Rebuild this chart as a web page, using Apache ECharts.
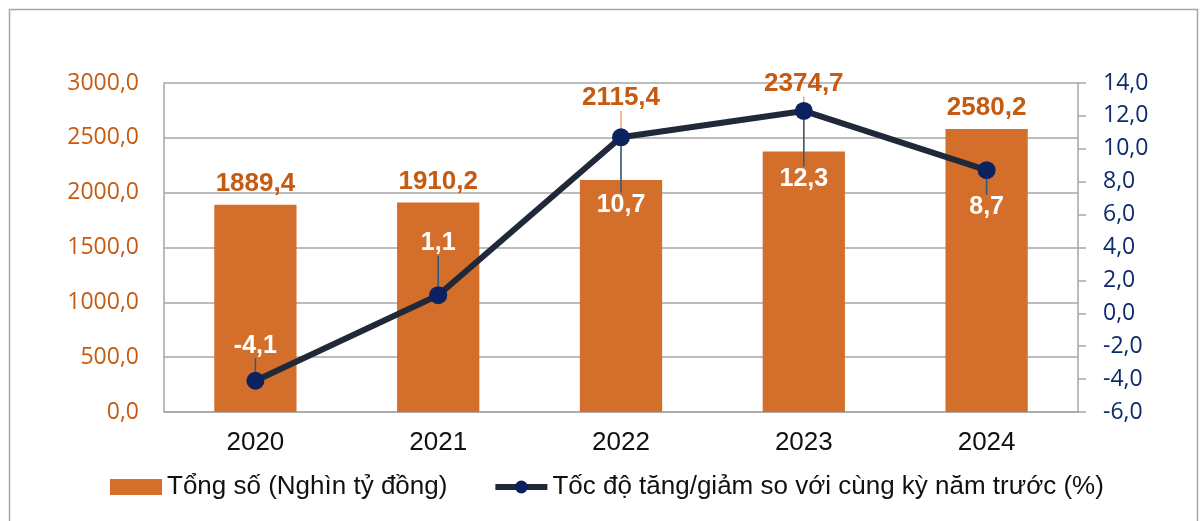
<!DOCTYPE html>
<html>
<head>
<meta charset="utf-8">
<script src="https://cdn.jsdelivr.net/npm/echarts@6/dist/echarts.min.js"></script>
<style>
  html, body { margin: 0; padding: 0; background: #fff; }
  #chart { width: 1203px; height: 521px; }
</style>
</head>
<body>
<div id="chart"></div>
<script>
var years = ["2020", "2021", "2022", "2023", "2024"];
var tongSo = [1889.4, 1910.2, 2115.4, 2374.7, 2580.2];      // Nghìn tỷ đồng
var tocDo = [-4.1, 1.1, 10.7, 12.3, 8.7];                    // %
// label shifts (px) so labels sit like the original
var barLabelDy = [0, 0, -61, -47, 0];
var lineLabelDy = [-35, -52, 68, 68, 37];

function fmt(v) { return v.toFixed(1).replace(".", ","); }

var barData = tongSo.map(function (v, i) {
  return { value: v, labelLine: { show: barLabelDy[i] !== 0 } };
});

var chart = echarts.init(document.getElementById("chart"));
chart.setOption({
  animation: false,
  graphic: [{
    type: "rect", left: 7, top: 7,
    shape: { width: 1188, height: 520 },
    style: { fill: "none", stroke: "#a6a6a6", lineWidth: 1.5 }
  }],
  grid: { left: 164, right: 125, top: 83, bottom: 109 },
  legend: {
    bottom: 16, left: 105, itemGap: 45, itemWidth: 52, itemHeight: 16,
    textStyle: { fontFamily: "Liberation Sans", fontSize: 26, color: "#111" },
    data: [
      { name: "Tổng số (Nghìn tỷ đồng)", icon: "rect", itemStyle: { color: "#d46e2b" } },
      { name: "Tốc độ tăng/giảm so với cùng kỳ năm trước (%)",
        lineStyle: { width: 6, color: "#1f2937" } }
    ]
  },
  xAxis: {
    type: "category", data: years,
    axisLine: { lineStyle: { color: "#a6a6a6", width: 1.5 } },
    axisTick: { show: false },
    axisLabel: { fontFamily: "Liberation Sans", fontSize: 26, color: "#111", margin: 18 }
  },
  yAxis: [{
    type: "value", min: 0, max: 3000, interval: 500,
    axisLine: { show: true, lineStyle: { color: "#a6a6a6", width: 1.5 } },
    splitLine: { lineStyle: { color: "#a6a6a6", width: 1.5 } },
    axisLabel: { formatter: fmt, fontFamily: "Open Sans", fontSize: 23, color: "#c55a11", margin: 25 }
  }, {
    type: "value", min: -6, max: 14, interval: 2, position: "right",
    axisLine: { show: true, lineStyle: { color: "#a6a6a6", width: 1.5 } },
    axisTick: { show: true, length: 8, lineStyle: { color: "#a6a6a6", width: 1.5 } },
    splitLine: { show: false },
    axisLabel: { formatter: fmt, fontFamily: "Open Sans", fontSize: 23, color: "#0d2a6b", margin: 25 }
  }],
  series: [{
    name: "Tổng số (Nghìn tỷ đồng)",
    type: "bar", data: barData, barWidth: "45%", z: 1,
    itemStyle: { color: "#d46e2b" },
    label: {
      show: true, position: "top", distance: 8,
      formatter: function (p) { return fmt(p.value); },
      fontFamily: "Liberation Sans", fontWeight: "bold", fontSize: 26, color: "#c55a11"
    },
    labelLayout: function (p) { return { dy: barLabelDy[p.dataIndex] }; },
    labelLine: { lineStyle: { color: "#f4a46a", width: 1.5 } }
  }, {
    name: "Tốc độ tăng/giảm so với cùng kỳ năm trước (%)",
    type: "line", yAxisIndex: 1, data: tocDo, z: 3,
    symbol: "circle", symbolSize: 18,
    lineStyle: { color: "#1f2937", width: 6 },
    itemStyle: { color: "#0b2160" },
    label: {
      show: true, position: "inside",
      formatter: function (p) { return fmt(p.value); },
      fontFamily: "Liberation Sans", fontWeight: "bold", fontSize: 25, color: "#fff"
    },
    labelLayout: function (p) { return { dy: lineLabelDy[p.dataIndex] }; },
    labelLine: { show: true, lineStyle: { color: "#2a5a8a", width: 1.5 } }
  }]
});
window.addEventListener("resize", function () { chart.resize(); });
</script>
</body>
</html>
